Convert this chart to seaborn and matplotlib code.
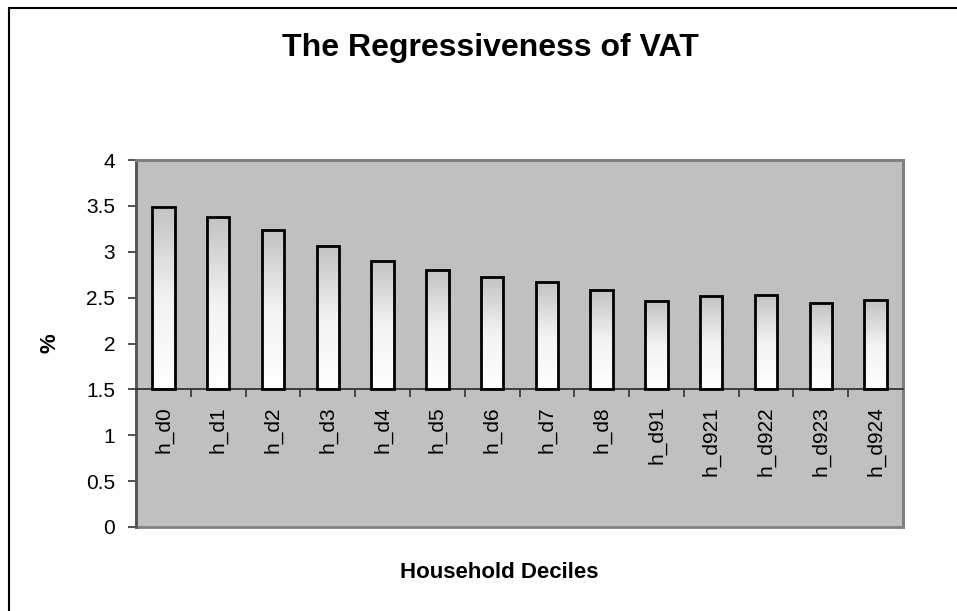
import numpy as np
import pandas as pd
import matplotlib
matplotlib.use("Agg")
import matplotlib.pyplot as plt
import seaborn as sns
from matplotlib.patches import Rectangle
from matplotlib.colors import LinearSegmentedColormap
from matplotlib.ticker import FixedLocator, FixedFormatter

# ---- data ----
categories = ["h_d0", "h_d1", "h_d2", "h_d3", "h_d4", "h_d5", "h_d6", "h_d7",
              "h_d8", "h_d91", "h_d921", "h_d922", "h_d923", "h_d924"]
values = [3.49, 3.38, 3.24, 3.06, 2.90, 2.80, 2.73, 2.67,
          2.58, 2.46, 2.52, 2.53, 2.44, 2.47]
y_ticks = [0, 0.5, 1, 1.5, 2, 2.5, 3, 3.5, 4]
y_tick_labels = ["0", "0.5", "1", "1.5", "2", "2.5", "3", "3.5", "4"]
base_value = 1.5
title = "The Regressiveness of VAT"
x_label = "Household Deciles"
y_label = "%"

plt.rcParams["font.family"] = ["Liberation Sans", "DejaVu Sans"]

df = pd.DataFrame({"cat": categories, "val": values})
df["height"] = df["val"] - base_value

W, H = 957, 611
fig = plt.figure(figsize=(W / 100, H / 100), dpi=100)
fig.patch.set_facecolor("white")

left, right, top, bottom = 136, 903, 160, 527
ax = fig.add_axes([left / W, 1 - bottom / H, (right - left) / W, (bottom - top) / H])
ax.set_facecolor("#c0c0c0")

sns.barplot(data=df, x="cat", y="height", bottom=base_value, ax=ax,
            width=0.41, facecolor="none", edgecolor="black", linewidth=2.0,
            zorder=3)

# gradient fills clipped to bars
cmap = LinearSegmentedColormap.from_list("g", ["#ffffff", "#f2f2f2", "#c2c2c2"])
grad = np.linspace(0, 1, 256).reshape(-1, 1)
for p in ax.patches:
    x0, y0 = p.get_x(), p.get_y()
    w, h = p.get_width(), p.get_height()
    im = ax.imshow(grad, cmap=cmap, origin="lower", aspect="auto",
                   extent=[x0, x0 + w, y0, y0 + h], zorder=2,
                   interpolation="bilinear")
    im.set_clip_path(p)

ax.set_xlim(-0.5, len(categories) - 0.5)
ax.set_ylim(0, 4)
ax.set_aspect("auto")

ax.yaxis.set_major_locator(FixedLocator(y_ticks))
ax.yaxis.set_major_formatter(FixedFormatter(y_tick_labels))
ax.tick_params(axis="y", direction="out", length=6, width=1.2, color="#333333",
               pad=9, labelcolor="black", labelsize=15)

ax.xaxis.set_major_locator(FixedLocator(list(range(len(categories)))))
ax.xaxis.set_major_formatter(FixedFormatter(categories))
ax.tick_params(axis="x", which="major", length=0, pad=12, labelsize=14.5,
               labelrotation=90)
ax.xaxis.set_minor_locator(FixedLocator(np.arange(0.5, len(categories) - 0.5, 1)))
ax.tick_params(axis="x", which="minor", direction="out", length=6, width=1.2,
               color="#333333")
ax.set_xlabel("")
ax.set_ylabel("")

# spines
ax.spines["bottom"].set_position(("data", base_value))
ax.spines["bottom"].set_color("#333333")
ax.spines["bottom"].set_linewidth(1.3)
ax.spines["left"].set_color("#555555")
ax.spines["left"].set_linewidth(2)
for s in ["top", "right"]:
    ax.spines[s].set_color("#808080")
    ax.spines[s].set_linewidth(2)
ax.add_patch(Rectangle((0, 0), 1, 1, transform=ax.transAxes, fill=False,
                       edgecolor="#808080", linewidth=2, zorder=0.5, clip_on=False))
ax.grid(False)

# texts
fig.text(490 / W, 1 - 48 / H, title, ha="center", va="center",
         fontsize=23, fontweight="bold")
fig.text(499 / W, 1 - 572 / H, x_label, ha="center", va="center",
         fontsize=16, fontweight="bold")
fig.text(50 / W, 1 - 343 / H, y_label, ha="center", va="center",
         fontsize=16, fontweight="bold", rotation=90)

# outer chart border
fig.patches.append(Rectangle((9 / W, -0.1), 1.2, 1 - 8 / H + 0.1,
                             transform=fig.transFigure, fill=False,
                             edgecolor="black", linewidth=1.5))

fig.canvas.draw()
for lbl in ax.get_xticklabels():
    lbl.set_rotation(90)
    lbl.set_fontsize(15)
    lbl.set_va("top")
    lbl.set_ha("center")

fig.savefig("out.png", dpi=100)
